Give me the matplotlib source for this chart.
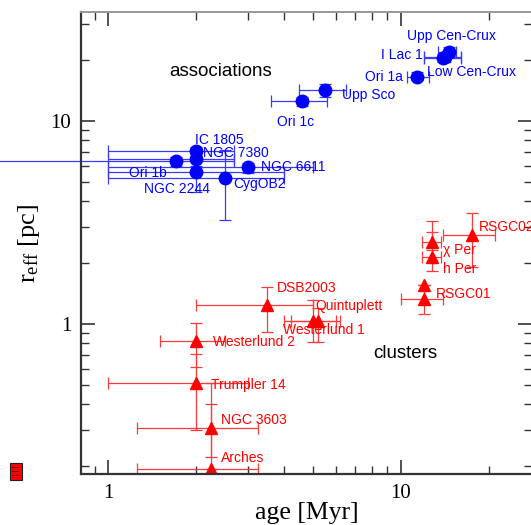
import numpy as np
import matplotlib.pyplot as plt
from matplotlib.patches import Rectangle
from matplotlib.ticker import FixedLocator, FixedFormatter, LogLocator, NullFormatter

plt.rcParams["mathtext.fontset"] = "custom"
plt.rcParams["mathtext.rm"] = "Liberation Serif"
plt.rcParams["mathtext.it"] = "Liberation Serif:italic"

# --- associations (blue) ---
assoc_names = ["Upp Cen-Crux", "I Lac 1", "Low Cen-Crux", "Ori 1a", "Upp Sco", "Ori 1c",
               "IC 1805", "NGC 7380", "NGC 6611", "Ori 1b", "NGC 2244", "CygOB2"]
assoc_age = [14.6, 14.0, 14.2, 11.4, 5.5, 4.6, 2.0, 2.0, 3.0, 1.7, 2.0, 2.5]
assoc_age_lo = [13.4, 12.0, 12.0, 10.5, 4.5, 3.6, 1.0, 1.0, 1.0, 0.3, 1.0, 1.0]
assoc_age_hi = [15.5, 16.1, 16.1, 12.5, 6.5, 5.6, 2.7, 2.7, 5.0, 2.7, 4.0, 4.0]
assoc_r = [21.9, 20.4, 20.6, 16.5, 14.1, 12.5, 7.1, 6.45, 5.9, 6.3, 5.6, 5.2]
assoc_r_lo = [20.9, 19.5, 19.5, 15.8, 13.1, 11.8, 6.9, 6.0, 5.55, 6.0, 4.47, 3.24]
assoc_r_hi = [23.0, 21.3, 21.5, 17.3, 15.2, 13.1, 7.4, 6.9, 6.16, 6.64, 6.7, 7.2]
# label anchors (data coords) and alignment
assoc_lx = [10.48, 11.92, 12.33, 10.18, 6.29, 3.78, 1.98, 2.11, 3.33, 1.18, 1.325, 2.68]
assoc_ly = [26.2, 21.07, 17.43, 16.47, 13.39, 9.89, 8.03, 6.91, 5.94, 5.54, 4.59, 4.88]
assoc_ha = ["left", "right", "left", "right", "left", "left",
            "left", "left", "left", "left", "left", "left"]

# --- clusters (red) ---
clus_names = ["RSGC02", "\u03c7 Per", "h Per", "", "RSGC01", "DSB2003", "Quintuplett",
              "Westerlund 1", "Westerlund 2", "Trumpler 14", "NGC 3603", "Arches"]
clus_age = [17.5, 12.8, 12.8, 12.0, 12.0, 3.5, 5.0, 5.2, 2.0, 2.0, 2.25, 2.25]
clus_age_lo = [14.0, 11.8, 11.8, 12.0, 10.0, 2.0, 4.0, 4.2, 1.5, 1.0, 1.25, 1.25]
clus_age_hi = [21.0, 13.7, 13.7, 12.0, 13.9, 5.0, 6.0, 6.2, 2.5, 3.0, 3.25, 3.25]
clus_r = [2.73, 2.54, 2.14, 1.55, 1.33, 1.24, 1.03, 1.03, 0.82, 0.51, 0.306, 0.193]
clus_r_lo = [1.91, 2.3, 1.82, 1.55, 1.11, 0.91, 0.815, 0.815, 0.61, 0.30, 0.22, 0.193]
clus_r_hi = [3.5, 3.21, 2.82, 1.55, 1.55, 1.52, 1.31, 1.2, 1.01, 0.71, 0.51, 0.40]
clus_lx = [18.43, 13.99, 13.99, 13.2, 13.2, 3.77, 5.12, 3.97, 2.275, 2.25, 2.42, 2.42]
clus_ly = [2.985, 2.31, 1.86, 1.40, 1.40, 1.494, 1.22, 0.931, 0.815, 0.50, 0.337, 0.217]


def asym(val, lo, hi):
    val = np.array(val)
    return [val - np.array(lo), np.array(hi) - val]


fig = plt.figure(figsize=(5.31, 5.25), dpi=100)
ax = fig.add_axes([81 / 531, 1 - 474.4 / 525, 451 / 531, 462.4 / 525])
ax.set_xscale("log")
ax.set_yscale("log")
ax.set_xlim(0.807, 28.1)
ax.set_ylim(0.181, 34.3)

eb = ax.errorbar(assoc_age, assoc_r, xerr=asym(assoc_age, assoc_age_lo, assoc_age_hi),
                 yerr=asym(assoc_r, assoc_r_lo, assoc_r_hi), fmt="o", color="blue",
                 ms=9, ecolor="#3a3aff", elinewidth=0.9, capsize=4.3, capthick=0.9)
# the Ori 1b age bar runs out past the left axis in the original
for art in eb.lines[1] + eb.lines[2]:
    art.set_clip_on(False)
ax.errorbar(clus_age, clus_r, xerr=asym(clus_age, clus_age_lo, clus_age_hi),
            yerr=asym(clus_r, clus_r_lo, clus_r_hi), fmt="^", color="red",
            ms=9, ecolor="#ff3a3a", elinewidth=0.9, capsize=4.3, capthick=0.9)

lab = dict(family="Liberation Sans", fontsize=10, va="center")
for n, x, y, ha in zip(assoc_names, assoc_lx, assoc_ly, assoc_ha):
    ax.text(x, y, n, color="blue", ha=ha, **lab)
for n, x, y in zip(clus_names, clus_lx, clus_ly):
    ax.text(x, y, n, color="red", ha="left", **lab)

ax.text(2.42, 17.43, "associations", ha="center", va="center",
        family="Liberation Sans", fontsize=13.5, color="black")
ax.text(10.34, 0.717, "clusters", ha="center", va="center",
        family="Liberation Sans", fontsize=13.5, color="black")

ax.set_xlabel("age [Myr]", family="Liberation Serif", fontsize=18.5, labelpad=-1)
ax.set_ylabel(r"r$_{\rm eff}$ [pc]", family="Liberation Serif", fontsize=19, labelpad=6)

for axis in (ax.xaxis, ax.yaxis):
    axis.set_major_locator(FixedLocator([1, 10]))
    axis.set_major_formatter(FixedFormatter(["1", "10"]))
    axis.set_minor_locator(LogLocator(base=10, subs=np.arange(2, 10)))
    axis.set_minor_formatter(NullFormatter())
ax.tick_params(which="both", direction="in", top=True, right=True, color="#333333")
ax.tick_params(which="major", length=10, width=1.2, labelsize=15, pad=7)
ax.tick_params(which="minor", length=5.5, width=1.0)
for t in ax.get_xticklabels() + ax.get_yticklabels():
    t.set_family("Liberation Serif")

ax.spines["left"].set_color("#333333")
ax.spines["bottom"].set_color("#333333")
ax.spines["left"].set_linewidth(1.6)
ax.spines["bottom"].set_linewidth(1.6)
ax.spines["top"].set_color("#999999")
ax.spines["top"].set_linewidth(1.4)

# small red marker at the bottom left corner
fig.add_artist(Rectangle((10 / 531, 1 - 480 / 525), 12 / 531, 17 / 525,
                         transform=fig.transFigure, facecolor="red",
                         edgecolor="#222222", linewidth=0.8))
for yy in (467, 471, 475):
    fig.add_artist(plt.Line2D([12 / 531, 18 / 531], [1 - yy / 525, 1 - yy / 525],
                              transform=fig.transFigure, color="#550000", lw=0.6))

fig.savefig("out.png", dpi=100)
